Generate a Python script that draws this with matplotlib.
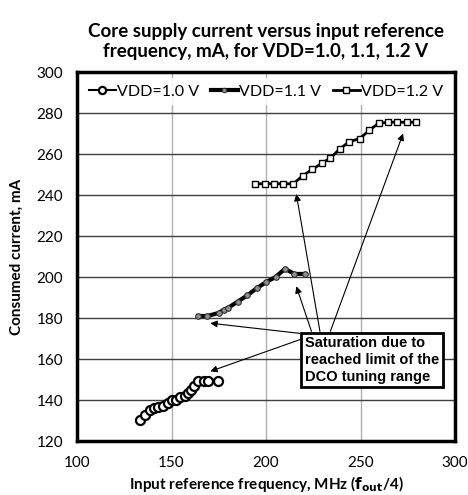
import matplotlib.pyplot as plt

plt.rcParams['font.family'] = ['Lato', 'DejaVu Sans']

# VDD = 1.0 V
x1 = [133.5, 136, 138.5, 140.5, 143, 145.5, 148, 150, 152.5, 154.5, 157, 158.5,
      160.5, 162, 164, 167, 169.5, 174.5]
y1 = [130.5, 132.5, 135, 136, 136.5, 137, 138.5, 140, 140, 141.5, 142, 143.5,
      145, 147, 149.5, 149.5, 149.5, 149.5]
# VDD = 1.1 V
x2 = [164, 169, 175, 177.5, 180, 185, 190, 195, 200, 205, 210, 215, 220.5]
y2 = [181, 181, 182.5, 184, 185, 188, 191, 194.5, 197.5, 200, 204, 201.5, 201.5]
# VDD = 1.2 V
x3 = [194, 199.5, 204, 209, 214.5, 219.5, 224.5, 229.5, 234, 239, 244, 249.5,
      254.5, 259.5, 264.5, 269.5, 274.5, 279.5]
y3 = [245.5, 245.5, 245.5, 245.5, 245.5, 249.5, 252.5, 255.5, 258, 262.5, 266,
      267.5, 271.5, 275, 275.5, 275.5, 275.5, 275.5]

xticks = [100, 150, 200, 250, 300]
yticks = [120, 140, 160, 180, 200, 220, 240, 260, 280, 300]

# annotation: text and arrows (tail, head) in data coords
note = "Saturation due to\nreached limit of the\nDCO tuning range"
arrows = [
    ((218, 172.5), (170.5, 177.5)),
    ((218, 169.5), (170.5, 154)),
    ((224, 173.5), (216, 195.5)),
    ((228.5, 173.5), (216, 240.5)),
    ((234, 173.5), (272.5, 270)),
]

fig = plt.figure(figsize=(4.68, 4.95), dpi=100)
ax = fig.add_axes([0.1645, 0.109, 0.808, 0.7455])

ax.plot(x1, y1, color='black', lw=1.5, marker='o', ms=6.5, mfc='white',
        mec='black', mew=1.6, label='VDD=1.0 V', zorder=3)
ax.plot(x2, y2, color='black', lw=3, marker='o', ms=4, mfc='#909090',
        mec='#303030', mew=0.8, label='VDD=1.1 V', zorder=3)
ax.plot(x3, y3, color='black', lw=2, marker='s', ms=5, mfc='white',
        mec='black', mew=1.0, label='VDD=1.2 V', zorder=3)

ax.set_xlim(100, 300)
ax.set_ylim(120, 300)
ax.set_xticks(xticks)
ax.set_yticks(yticks)
ax.tick_params(length=0, labelsize=11)
ax.tick_params(axis='x', pad=11)
ax.tick_params(axis='y', pad=10)
ax.xaxis.grid(True, color='#b0b0b0', lw=1)
ax.yaxis.grid(True, color='#404040', lw=1)
ax.set_axisbelow(True)
for s in ax.spines.values():
    s.set_linewidth(2.5)

for tail, head in arrows:
    ax.annotate('', xy=head, xytext=tail,
                arrowprops=dict(arrowstyle='-|>', color='black', lw=0.8,
                                mutation_scale=10, shrinkA=0, shrinkB=0),
                zorder=4)

ax.text(220.5, 159.5, note, fontsize=10.5, fontweight='bold', va='center',
        ha='left', family=['Liberation Sans', 'DejaVu Sans'], linespacing=1.25,
        bbox=dict(boxstyle='square,pad=0.25', fc='white', ec='black', lw=2),
        zorder=5)

leg = ax.legend(loc='upper center', ncol=3, frameon=True, fontsize=11.5,
                handlelength=1.7, handletextpad=0.1, columnspacing=0.7,
                borderaxespad=0.4, markerscale=0.8)
leg.get_frame().set_facecolor('white')
leg.get_frame().set_edgecolor('none')
leg.get_frame().set_alpha(0.85)

ax.set_title('Core supply current versus input reference\n'
             'frequency, mA, for VDD=1.0, 1.1, 1.2 V',
             fontsize=13.5, fontweight='bold', pad=11)
ax.set_xlabel('Input reference frequency, MHz ($\\mathbf{f_{out}}$/4)',
              fontsize=11, fontweight='bold', labelpad=3)
ax.set_ylabel('Consumed current, mA', fontsize=11, fontweight='bold',
              labelpad=9)

fig.savefig('out.png', dpi=100)
